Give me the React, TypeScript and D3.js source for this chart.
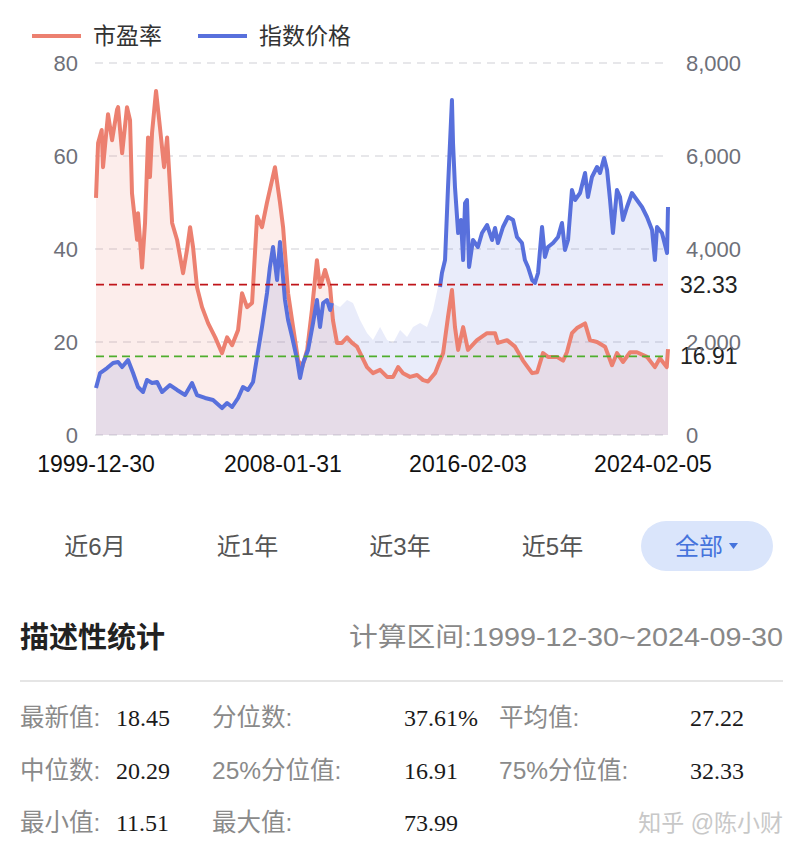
import * as d3 from 'd3';

// 市盈率 (PE) readings, [date, value]
const peSeries: [string, number][] = [
  ['1999-12-30', 51.0], ['2000-02-01', 62.8], ['2000-03-29', 65.6], ['2000-04-19', 57.6],
  ['2000-07-07', 69.0], ['2000-09-09', 63.4], ['2000-11-27', 70.0], ['2000-12-13', 70.5],
  ['2001-02-15', 60.6], ['2001-05-03', 70.5], ['2001-06-20', 67.7], ['2001-07-21', 52.0],
  ['2001-10-09', 42.0], ['2001-10-24', 47.7], ['2001-12-27', 36.0], ['2002-02-12', 45.6],
  ['2002-04-01', 64.0], ['2002-05-01', 55.5], ['2002-06-03', 65.0], ['2002-08-05', 73.99],
  ['2002-10-07', 66.0], ['2002-12-10', 57.6], ['2003-01-27', 64.0], ['2003-04-16', 45.6],
  ['2003-07-03', 42.0], ['2003-10-06', 34.8], ['2003-12-07', 39.8], ['2004-01-25', 44.7],
  ['2004-03-12', 40.4], ['2004-05-13', 31.8], ['2004-08-01', 27.5], ['2004-11-06', 24.0],
  ['2005-02-25', 21.0], ['2005-06-13', 17.6], ['2005-09-01', 21.0], ['2005-11-19', 19.3],
  ['2006-02-22', 22.6], ['2006-04-25', 30.5], ['2006-07-13', 27.5], ['2006-10-01', 28.4],
  ['2006-12-19', 47.0], ['2007-03-07', 44.7], ['2007-05-25', 50.0], ['2007-08-13', 54.8],
  ['2007-09-28', 57.6], ['2007-12-16', 50.0], ['2008-02-03', 44.7], ['2008-04-22', 30.5],
  ['2008-07-10', 23.2], ['2008-09-28', 16.0], ['2008-12-01', 14.6], ['2009-02-18', 18.3],
  ['2009-05-04', 26.9], ['2009-07-22', 37.6], ['2009-09-09', 31.8], ['2009-11-27', 35.5],
  ['2010-02-15', 31.8], ['2010-04-01', 24.7], ['2010-06-04', 19.8], ['2010-08-22', 19.8],
  ['2010-11-10', 21.0], ['2011-01-28', 19.8], ['2011-04-16', 19.0], ['2011-07-04', 16.8],
  ['2011-09-21', 14.6], ['2011-12-25', 13.3], ['2012-04-15', 14.0], ['2012-08-04', 12.5],
  ['2012-11-07', 12.5], ['2013-01-25', 14.6], ['2013-04-13', 13.3], ['2013-08-01', 12.5],
  ['2013-11-21', 12.9], ['2014-02-24', 11.8], ['2014-05-13', 11.51], ['2014-09-01', 13.3],
  ['2014-11-19', 16.0], ['2015-01-06', 17.6], ['2015-03-25', 25.4], ['2015-05-26', 31.2],
  ['2015-07-13', 23.2], ['2015-09-01', 18.3], ['2015-11-19', 23.2], ['2016-02-03', 18.3],
  ['2016-06-25', 20.4], ['2016-12-01', 21.9], ['2017-04-06', 21.9], ['2017-05-22', 19.8],
  ['2017-10-13', 20.4], ['2018-02-16', 19.0], ['2018-06-22', 16.0], ['2018-11-13', 13.3],
  ['2019-02-01', 13.5], ['2019-05-04', 17.6], ['2019-07-22', 16.8], ['2019-12-10', 16.8],
  ['2020-03-16', 16.0], ['2020-05-16', 17.8], ['2020-08-04', 21.9], ['2020-10-22', 23.0],
  ['2021-02-27', 24.0], ['2021-05-16', 20.4], ['2021-09-04', 20.0], ['2022-01-09', 19.0],
  ['2022-04-29', 15.0], ['2022-07-16', 17.6], ['2022-10-19', 15.7], ['2023-02-09', 17.8],
  ['2023-05-28', 17.8], ['2023-11-03', 16.8], ['2024-03-07', 14.6], ['2024-05-25', 16.5],
  ['2024-09-10', 14.6], ['2024-09-30', 18.45],
];

// 指数价格 readings, [date, value]
const indexSeries: [string, number][] = [
  ['1999-12-30', 1010], ['2000-03-03', 1333], ['2000-06-22', 1440], ['2000-09-25', 1548],
  ['2000-12-13', 1570], ['2001-02-15', 1462], ['2001-05-19', 1613], ['2001-08-07', 1333],
  ['2001-10-24', 1032], ['2002-01-12', 925], ['2002-03-15', 1183], ['2002-06-03', 1118],
  ['2002-08-21', 1140], ['2002-11-09', 925], ['2003-03-13', 1075], ['2003-07-03', 968],
  ['2003-11-07', 860], ['2004-02-25', 1118], ['2004-05-13', 860], ['2004-09-18', 796],
  ['2005-01-22', 753], ['2005-06-13', 580], ['2005-09-01', 688], ['2005-11-19', 602],
  ['2006-02-22', 796], ['2006-05-10', 1032], ['2006-07-28', 968], ['2006-10-16', 1140],
  ['2006-12-19', 1677], ['2007-03-07', 2322], ['2007-05-25', 3054], ['2007-07-10', 3613],
  ['2007-08-28', 4043], ['2007-10-31', 3333], ['2007-12-16', 4150], ['2008-03-04', 2903],
  ['2008-04-22', 2473], ['2008-06-25', 2107], ['2008-09-13', 1613], ['2008-10-28', 1226],
  ['2008-12-16', 1548], ['2009-03-04', 1828], ['2009-05-22', 2409], ['2009-07-22', 2903],
  ['2009-09-09', 2322], ['2009-10-28', 2839], ['2009-12-28', 2903], ['2010-02-15', 2688],
  ['2010-03-16', 2839], ['2010-07-22', 2752], ['2010-11-10', 2903], ['2011-02-12', 2839],
  ['2011-06-03', 2473], ['2011-09-21', 2193], ['2011-12-25', 2043], ['2012-04-15', 2322],
  ['2012-08-04', 2043], ['2012-11-07', 1978], ['2013-02-25', 2258], ['2013-06-15', 2107],
  ['2013-09-18', 2322], ['2014-01-07', 2409], ['2014-04-27', 2322], ['2014-07-31', 2688],
  ['2014-10-18', 3183], ['2014-11-19', 3183], ['2014-12-19', 3484], ['2015-02-06', 3763],
  ['2015-03-25', 5333], ['2015-05-26', 7204], ['2015-06-12', 6280], ['2015-07-13', 5333],
  ['2015-09-01', 4344], ['2015-10-16', 4624], ['2015-11-19', 3763], ['2015-12-19', 4989],
  ['2016-01-19', 5054], ['2016-02-21', 3613], ['2016-04-22', 4194], ['2016-07-10', 4043],
  ['2016-09-12', 4344], ['2016-12-01', 4516], ['2017-02-18', 4194], ['2017-04-06', 4452],
  ['2017-05-22', 4129], ['2017-08-10', 4473], ['2017-10-28', 4688], ['2018-01-16', 4624],
  ['2018-03-19', 4258], ['2018-06-06', 4129], ['2018-07-22', 3763], ['2018-09-09', 3613],
  ['2018-11-13', 3333], ['2018-12-28', 3269], ['2019-02-15', 3484], ['2019-04-19', 4473],
  ['2019-06-04', 3828], ['2019-07-22', 4043], ['2019-10-10', 4129], ['2019-12-28', 4258],
  ['2020-02-28', 4559], ['2020-04-16', 3978], ['2020-06-03', 4194], ['2020-08-04', 5269],
  ['2020-09-22', 5054], ['2020-12-10', 5204], ['2021-02-27', 5634], ['2021-04-13', 5118],
  ['2021-06-16', 5548], ['2021-09-04', 5763], ['2021-10-22', 5634], ['2021-12-25', 5957],
  ['2022-02-10', 5699], ['2022-03-29', 5054], ['2022-05-14', 4344], ['2022-07-16', 5269],
  ['2022-09-03', 5118], ['2022-10-19', 4624], ['2022-12-22', 4903], ['2023-03-10', 5204],
  ['2023-05-28', 5054], ['2023-08-16', 4903], ['2023-11-03', 4688], ['2024-01-22', 4409],
  ['2024-03-07', 3763], ['2024-04-09', 4473], ['2024-06-27', 4344], ['2024-09-15', 3914],
  ['2024-09-30', 4903],
];

// the index line is missing over this span (only the area shows)
const indexLineGap: [string, string] = ['2010-03-20', '2014-11-10'];

const peTicks = [0, 20, 40, 60, 80];
const indexTicks = [0, 2000, 4000, 6000, 8000];
const dateTicks = ['1999-12-30', '2008-01-31', '2016-02-03', '2024-02-05'];
const markLines = [
  { value: 32.33, color: '#c0151a' },
  { value: 16.91, color: '#4fae2d' },
];
const legendItems = [
  { name: '市盈率', color: '#ec8070' },
  { name: '指数价格', color: '#5870dc' },
];
const tabs = ['近6月', '近1年', '近3年', '近5年'];
const activeTab = '全部';
const rangeText = '计算区间:1999-12-30~2024-09-30';
const statRows: [string, string][][] = [
  [['最新值:', '18.45'], ['分位数:', '37.61%'], ['平均值:', '27.22']],
  [['中位数:', '20.29'], ['25%分位值:', '16.91'], ['75%分位值:', '32.33']],
  [['最小值:', '11.51'], ['最大值:', '73.99']],
];

const parse = d3.timeParse('%Y-%m-%d');
const SANS = '"Liberation Sans", Arial, "Noto Sans CJK SC", sans-serif';
const SERIF = '"Liberation Serif", "Times New Roman", "Noto Sans CJK SC", serif';

export default function App() {
  const W = 802;
  const H = 858;
  const plot = { left: 96, right: 668, top: 63, bottom: 435 };

  const x = d3
    .scaleTime()
    .domain([parse('1999-12-30')!, parse('2024-09-30')!])
    .range([plot.left, plot.right]);
  const yPe = d3.scaleLinear().domain([0, 80]).range([plot.bottom, plot.top]);
  const yIdx = d3.scaleLinear().domain([0, 8000]).range([plot.bottom, plot.top]);

  const pe = peSeries.map(([d, v]) => ({ date: parse(d)!, v }));
  const idx = indexSeries.map(([d, v]) => ({ date: parse(d)!, v }));
  const gapA = parse(indexLineGap[0])!;
  const gapB = parse(indexLineGap[1])!;

  const peLine = d3.line<{ date: Date; v: number }>().x(d => x(d.date)).y(d => yPe(d.v));
  const peArea = d3
    .area<{ date: Date; v: number }>()
    .x(d => x(d.date))
    .y0(yPe(0))
    .y1(d => yPe(d.v));
  const idxLine = d3
    .line<{ date: Date; v: number }>()
    .defined(d => d.date < gapA || d.date > gapB)
    .x(d => x(d.date))
    .y(d => yIdx(d.v));
  const idxArea = d3
    .area<{ date: Date; v: number }>()
    .x(d => x(d.date))
    .y0(yIdx(0))
    .y1(d => yIdx(d.v));

  const tabStep = 152.5;

  return (
    <svg
      width={W}
      height={H}
      style={{ position: 'absolute', left: 0, top: 0, background: '#fff' }}
    >
      {/* legend */}
      <g fontFamily={SANS} fontSize={23} fill="#333">
        {legendItems.map((item, i) => {
          const lx = 32 + i * 166;
          return (
            <g key={item.name}>
              <line x1={lx} x2={lx + 49} y1={36} y2={36} stroke={item.color} strokeWidth={4} />
              <text x={lx + 61} y={44}>{item.name}</text>
            </g>
          );
        })}
      </g>

      {/* grid */}
      {peTicks.map(t => (
        <line
          key={t}
          x1={plot.left - 1}
          x2={plot.right}
          y1={yPe(t)}
          y2={yPe(t)}
          stroke="#dfdfe4"
          strokeWidth={1.5}
          strokeDasharray="8 6"
        />
      ))}

      {/* areas */}
      <path d={peArea(pe)!} fill="rgba(236,128,112,0.14)" />
      <path d={idxArea(idx)!} fill="rgba(88,112,220,0.13)" />

      {/* lines */}
      <path d={peLine(pe)!} fill="none" stroke="#ec8070" strokeWidth={4} strokeLinejoin="round" />
      <path d={idxLine(idx)!} fill="none" stroke="#5870dc" strokeWidth={4} strokeLinejoin="round" />

      {/* mark lines */}
      {markLines.map(m => (
        <g key={m.value}>
          <line
            x1={plot.left}
            x2={plot.right}
            y1={yPe(m.value)}
            y2={yPe(m.value)}
            stroke={m.color}
            strokeWidth={1.8}
            strokeDasharray="8 5"
          />
          <text
            x={plot.right + 12}
            y={yPe(m.value) + 8}
            fontFamily={SANS}
            fontSize={23}
            fill="#222"
          >
            {m.value.toFixed(2)}
          </text>
        </g>
      ))}

      {/* axes labels */}
      <g fontFamily={SANS} fontSize={22} fill="#6e7079">
        {peTicks.map(t => (
          <text key={t} x={78} y={yPe(t) + 8} textAnchor="end">{t}</text>
        ))}
        {indexTicks.map(t => (
          <text key={t} x={686} y={yIdx(t) + 8}>{d3.format(',')(t)}</text>
        ))}
      </g>
      <g fontFamily={SANS} fontSize={23} fill="#111">
        {dateTicks.map(d => (
          <text key={d} x={x(parse(d)!)} y={472} textAnchor="middle">{d}</text>
        ))}
      </g>

      {/* tabs */}
      <g fontFamily={SANS} fontSize={24} fill="#555">
        {tabs.map((t, i) => (
          <text key={t} x={95 + i * tabStep} y={555} textAnchor="middle">{t}</text>
        ))}
      </g>
      <rect x={641} y={521} width={132} height={50} rx={25} fill="#dae5fb" />
      <text x={699} y={555} textAnchor="middle" fontFamily={SANS} fontSize={24} fill="#4573dc">
        {activeTab}
      </text>
      <path d="M729,543 L738,543 L733.5,549 Z" fill="#4573dc" />

      {/* stats header */}
      <text x={20} y={648} fontFamily={SANS} fontSize={29} fontWeight="bold" fill="#222">
        描述性统计
      </text>
      <text
        x={349}
        y={646}
        textLength={434}
        lengthAdjust="spacingAndGlyphs"
        fontFamily={SANS}
        fontSize={26}
        fill="#888"
      >
        {rangeText}
      </text>
      <line x1={20} x2={783} y1={681} y2={681} stroke="#dcdcdc" strokeWidth={1.5} />

      {/* stats table */}
      {statRows.map((row, r) =>
        row.map(([label, value], c) => {
          const ly = 726 + r * 52.5;
          const lx = [20, 212, 499][c];
          const vx = [116, 404, 690][c];
          return (
            <g key={label}>
              <text x={lx} y={ly} fontFamily={SANS} fontSize={24.5} fill="#8a8a8a">{label}</text>
              <text x={vx} y={ly} fontFamily={SERIF} fontSize={24} fill="#1a1a1a">{value}</text>
            </g>
          );
        })
      )}
      <text x={783} y={831} textAnchor="end" fontFamily={SANS} fontSize={23} fill="#c8c8c8">
        知乎 @陈小财
      </text>
    </svg>
  );
}
